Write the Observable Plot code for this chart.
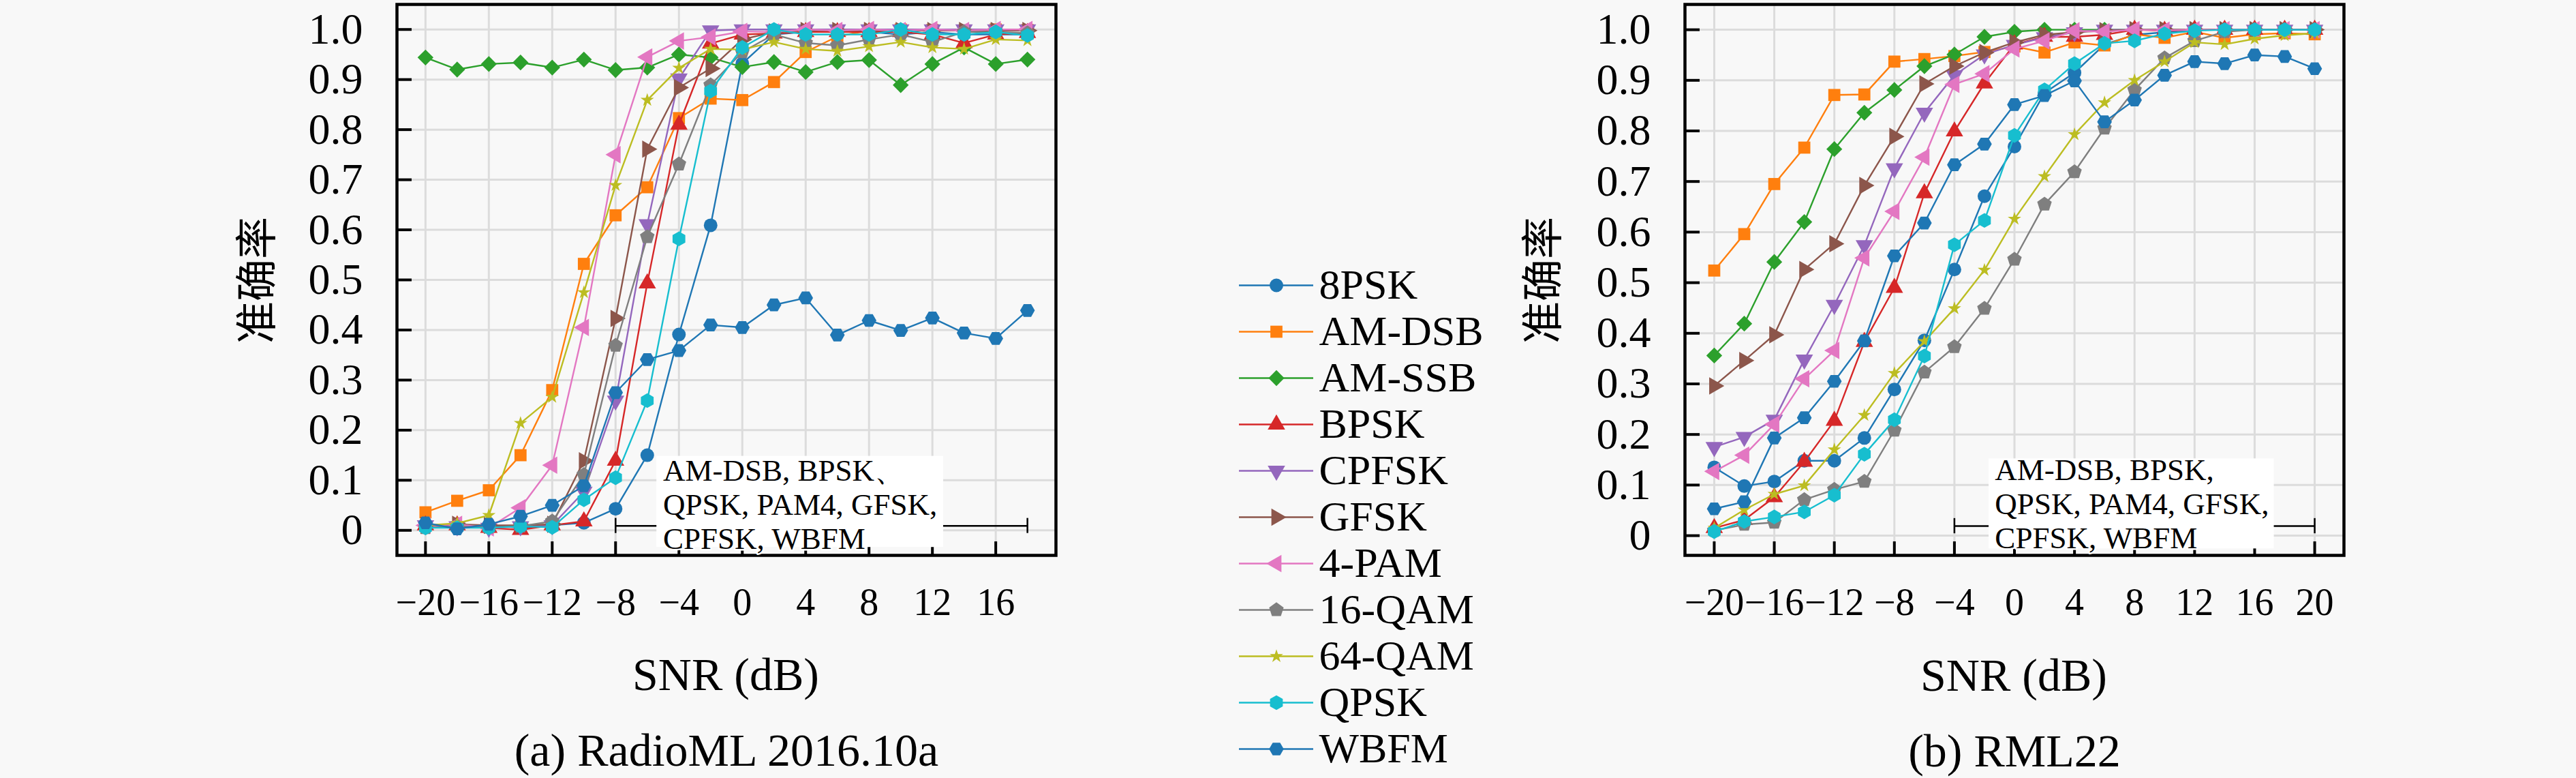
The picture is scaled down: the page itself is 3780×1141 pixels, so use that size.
<!DOCTYPE html>
<html>
<head>
<meta charset="utf-8">
<script src="https://cdn.jsdelivr.net/npm/d3@7"></script>
<script src="https://cdn.jsdelivr.net/npm/@observablehq/plot@0.6"></script>
<style>
  body { margin: 0; background: #f8f8f8; }
  #root { position: relative; width: 3780px; height: 1141px; overflow: hidden; background: #f8f8f8; font-family: "Liberation Serif", serif; color: #000; }
  .panel { position: absolute; top: 0; }
  .lbl { position: absolute; transform: translate(-50%, -50%); white-space: nowrap; line-height: 1; font-family: "Liberation Serif", serif; font-size: 68px; color: #000; }
  .ylab { position: absolute; transform: translate(-50%, -50%) rotate(-90deg); white-space: nowrap; line-height: 1; font-family: "Noto Sans CJK SC", sans-serif; font-size: 62px; color: #000; }
</style>
</head>
<body>
<div id="root"></div>
<script>
// ---------------- data ----------------
const classes = ["8PSK", "AM-DSB", "AM-SSB", "BPSK", "CPFSK", "GFSK", "4-PAM", "16-QAM", "64-QAM", "QPSK", "WBFM"];

const snrA = [-20, -18, -16, -14, -12, -10, -8, -6, -4, -2, 0, 2, 4, 6, 8, 10, 12, 14, 16, 18];
const snrB = [-20, -18, -16, -14, -12, -10, -8, -6, -4, -2, 0, 2, 4, 6, 8, 10, 12, 14, 16, 18, 20];

// (a) RadioML 2016.10a
const a8PSK   = [0.010, 0.008, 0.010, 0.005, 0.010, 0.015, 0.043, 0.150, 0.391, 0.609, 0.932, 0.990, 0.995, 0.995, 0.995, 0.990, 0.995, 0.990, 0.990, 0.990];
const aAMDSB  = [0.036, 0.059, 0.080, 0.150, 0.280, 0.532, 0.629, 0.685, 0.823, 0.862, 0.859, 0.895, 0.955, 0.986, 0.998, 1.000, 0.999, 0.998, 1.000, 0.999];
const aAMSSB  = [0.944, 0.920, 0.931, 0.934, 0.924, 0.940, 0.919, 0.924, 0.950, 0.944, 0.925, 0.935, 0.915, 0.935, 0.939, 0.889, 0.931, 0.964, 0.931, 0.940];
const aBPSK   = [0.010, 0.010, 0.005, 0.001, 0.010, 0.018, 0.139, 0.493, 0.810, 0.972, 0.990, 0.992, 0.995, 0.995, 0.995, 0.995, 0.990, 0.973, 0.990, 0.993];
const aCPFSK  = [0.010, 0.008, 0.005, 0.008, 0.010, 0.077, 0.259, 0.611, 0.902, 0.998, 1.000, 1.000, 1.000, 1.000, 1.000, 1.000, 1.000, 1.000, 1.000, 1.000];
const aGFSK   = [0.010, 0.012, 0.010, 0.010, 0.012, 0.139, 0.423, 0.761, 0.884, 0.922, 0.980, 0.995, 0.998, 0.998, 0.998, 0.998, 0.998, 0.998, 0.998, 0.998];
const a4PAM   = [0.010, 0.012, 0.005, 0.045, 0.130, 0.405, 0.750, 0.945, 0.977, 0.985, 0.996, 0.995, 1.000, 0.998, 1.000, 0.998, 1.000, 0.998, 1.000, 1.000];
const a16QAM  = [0.005, 0.008, 0.006, 0.008, 0.018, 0.111, 0.369, 0.586, 0.731, 0.889, 0.955, 0.990, 0.973, 0.968, 0.980, 0.990, 0.975, 0.995, 0.995, 0.993];
const a64QAM  = [0.010, 0.014, 0.030, 0.214, 0.266, 0.475, 0.689, 0.859, 0.923, 0.961, 0.960, 0.975, 0.961, 0.957, 0.966, 0.975, 0.964, 0.961, 0.980, 0.978];
const aQPSK   = [0.005, 0.005, 0.005, 0.008, 0.006, 0.061, 0.105, 0.259, 0.582, 0.877, 0.964, 1.000, 0.990, 0.990, 0.990, 1.000, 0.990, 0.990, 0.995, 0.988];
const aWBFM   = [0.015, 0.003, 0.012, 0.028, 0.050, 0.089, 0.275, 0.341, 0.359, 0.410, 0.405, 0.450, 0.464, 0.390, 0.419, 0.399, 0.424, 0.394, 0.383, 0.439];

// (b) RML22
const b8PSK   = [0.135, 0.098, 0.107, 0.148, 0.148, 0.193, 0.289, 0.386, 0.526, 0.671, 0.769, 0.875, 0.915, 0.971, 0.990, 0.995, 1.000, 1.000, 1.000, 1.000, 1.000];
const bAMDSB  = [0.524, 0.596, 0.695, 0.767, 0.871, 0.872, 0.937, 0.942, 0.948, 0.956, 0.967, 0.955, 0.975, 0.969, 0.991, 0.984, 0.996, 0.984, 0.991, 0.993, 0.991];
const bAMSSB  = [0.356, 0.419, 0.541, 0.620, 0.764, 0.836, 0.881, 0.928, 0.951, 0.986, 0.996, 1.000, 1.000, 1.000, 1.000, 1.000, 1.000, 1.000, 1.000, 1.000, 1.000];
const bBPSK   = [0.015, 0.031, 0.076, 0.146, 0.227, 0.383, 0.490, 0.677, 0.799, 0.894, 0.971, 0.986, 0.986, 0.990, 1.000, 0.998, 1.000, 1.000, 1.000, 1.000, 1.000];
const bCPFSK  = [0.175, 0.195, 0.229, 0.348, 0.456, 0.574, 0.726, 0.836, 0.910, 0.951, 0.970, 0.985, 0.995, 1.000, 1.000, 1.000, 1.000, 1.000, 1.000, 1.000, 1.000];
const bGFSK   = [0.296, 0.346, 0.397, 0.526, 0.577, 0.692, 0.789, 0.893, 0.928, 0.955, 0.975, 0.990, 0.995, 0.998, 1.000, 1.000, 1.000, 1.000, 1.000, 1.000, 1.000];
const b4PAM   = [0.127, 0.159, 0.220, 0.310, 0.366, 0.549, 0.641, 0.748, 0.892, 0.913, 0.962, 0.978, 0.998, 0.996, 1.000, 0.999, 1.000, 1.000, 1.000, 1.000, 1.000];
const b16QAM  = [0.010, 0.022, 0.026, 0.071, 0.091, 0.107, 0.208, 0.323, 0.373, 0.449, 0.546, 0.655, 0.719, 0.805, 0.881, 0.944, 0.978, 0.996, 1.000, 1.000, 1.000];
const b64QAM  = [0.015, 0.051, 0.082, 0.099, 0.170, 0.238, 0.321, 0.384, 0.449, 0.525, 0.626, 0.710, 0.793, 0.856, 0.900, 0.937, 0.975, 0.971, 0.982, 0.989, 0.993];
const bQPSK   = [0.008, 0.028, 0.037, 0.047, 0.080, 0.161, 0.229, 0.355, 0.575, 0.623, 0.791, 0.881, 0.933, 0.973, 0.978, 0.992, 0.998, 1.000, 1.000, 1.000, 1.000];
const bWBFM   = [0.053, 0.067, 0.193, 0.233, 0.305, 0.385, 0.553, 0.618, 0.733, 0.774, 0.852, 0.870, 0.899, 0.818, 0.861, 0.910, 0.937, 0.933, 0.950, 0.947, 0.923];

const seriesA = [a8PSK, aAMDSB, aAMSSB, aBPSK, aCPFSK, aGFSK, a4PAM, a16QAM, a64QAM, aQPSK, aWBFM];
const seriesB = [b8PSK, bAMDSB, bAMSSB, bBPSK, bCPFSK, bGFSK, b4PAM, b16QAM, b64QAM, bQPSK, bWBFM];

// ticks
const xTicksA = [-20, -16, -12, -8, -4, 0, 4, 8, 12, 16];
const xTickLabelsA = ["−20", "−16", "−12", "−8", "−4", "0", "4", "8", "12", "16"];
const xTicksB = [-20, -16, -12, -8, -4, 0, 4, 8, 12, 16, 20];
const xTickLabelsB = ["−20", "−16", "−12", "−8", "−4", "0", "4", "8", "12", "16", "20"];
const yTicks = [0, 0.1, 0.2, 0.3, 0.4, 0.5, 0.6, 0.7, 0.8, 0.9, 1.0];
const yTickLabels = ["0", "0.1", "0.2", "0.3", "0.4", "0.5", "0.6", "0.7", "0.8", "0.9", "1.0"];

// texts
const yLabel = "准确率";
const xLabel = "SNR (dB)";
const titleA = "(a) RadioML 2016.10a";
const titleB = "(b) RML22";
const annoLinesA = ["AM-DSB, BPSK、", "QPSK, PAM4, GFSK,", "CPFSK, WBFM"];
const annoLinesB = ["AM-DSB, BPSK,", "QPSK, PAM4, GFSK,", "CPFSK, WBFM"];
// annotation anchors (data units): text x, text y, bracket x1, x2, y
const annoPosA = [-5.0, 0.053, -8, 18, 0.009];
const annoPosB = [-1.3, 0.064, -4, 20, 0.019];
// annotation background box (data units): x1, x2, y1, y2
const annoBoxA = [-5.4, 12.7, -0.034, 0.148];
const annoBoxB = [-1.7, 17.3, -0.026, 0.152];

// ---------------- styles ----------------
const colors = ["#1f77b4", "#ff7f0e", "#2ca02c", "#d62728", "#9467bd", "#8c564b", "#e377c2", "#7f7f7f", "#bcbd22", "#17becf", "#1f77b4"];

function polygon(n, rot, scale) {
  return {
    draw(ctx, size) {
      const R = Math.sqrt(size / Math.PI) * scale;
      for (let i = 0; i < n; i++) {
        const a = rot + 2 * Math.PI * i / n;
        const px = R * Math.sin(a), py = -R * Math.cos(a);
        if (i === 0) ctx.moveTo(px, py); else ctx.lineTo(px, py);
      }
      ctx.closePath();
    }
  };
}
const pentagon = polygon(5, 0, 1.12);
const hexagon = polygon(6, 0, 1.08);
const hexagonFlat = polygon(6, Math.PI / 6, 1.08);

const markerStyle = [
  {symbol: "circle", r: 10, rotate: 0},
  {symbol: "square", r: 10, rotate: 0},
  {symbol: "diamond2", r: 10.5, rotate: 0},
  {symbol: "triangle", r: 9.5, rotate: 0},
  {symbol: "triangle", r: 9.5, rotate: 180},
  {symbol: "triangle", r: 9.5, rotate: 90},
  {symbol: "triangle", r: 9.5, rotate: -90},
  {symbol: pentagon, r: 10, rotate: 0},
  {symbol: "star", r: 6.2, rotate: 0},
  {symbol: hexagon, r: 10, rotate: 0},
  {symbol: hexagonFlat, r: 10, rotate: 0}
];

const serif = "Liberation Serif";
const lineW = 2.4;

function panel(snr, series, xDomain, yDomain, xTicks, xTickLabels, annoLines, annoPos, annoBox) {
  const [tx, ty, bx1, bx2, by] = annoPos;
  const box = {x1: annoBox[0], x2: annoBox[1], y1: annoBox[2], y2: annoBox[3]};
  const bracketSegs = [{a: bx1, b: box.x1, y: by}, {a: box.x2, b: bx2, y: by}];
  const bracketEnds = [{x: bx1, lo: by - 0.015, hi: by + 0.015}, {x: bx2, lo: by - 0.015, hi: by + 0.015}];
  const marks = [
    Plot.gridX({ticks: xTicks, stroke: "#dcdcdc", strokeOpacity: 1, strokeWidth: 3}),
    Plot.gridY({ticks: yTicks, stroke: "#dcdcdc", strokeOpacity: 1, strokeWidth: 3})
  ];
  classes.forEach((c, i) => {
    const vals = series[i];
    const data = snr.map((x, j) => ({snr: x, acc: vals[j]}));
    const m = markerStyle[i];
    marks.push(Plot.line(data, {x: "snr", y: "acc", stroke: colors[i], strokeWidth: lineW}));
    marks.push(Plot.dot(data, {x: "snr", y: "acc", symbol: m.symbol, r: m.r, rotate: m.rotate, fill: colors[i]}));
  });
  marks.push(
    Plot.axisY({ticks: yTicks, tickSize: 22, dx: 22, fill: "none", stroke: "black", strokeWidth: 4, label: null}),
    Plot.axisX({ticks: xTicks, tickSize: 20, dy: -20, fill: "none", stroke: "black", strokeWidth: 4, label: null}),
    Plot.rect([box], {x1: "x1", x2: "x2", y1: "y1", y2: "y2", fill: "#ffffff", fillOpacity: 1}),
    Plot.ruleY(bracketSegs, {y: "y", x1: "a", x2: "b", stroke: "black", strokeWidth: 2.5}),
    Plot.ruleX(bracketEnds, {x: "x", y1: "lo", y2: "hi", stroke: "black", strokeWidth: 2.5}),
    Plot.frame({stroke: "black", strokeWidth: 4.5}),
    Plot.axisY({ticks: yTicks, tickSize: 0, tickPadding: 50, stroke: "none", fill: "black", fontSize: 64, fontFamily: serif,
      tickFormat: d => yTickLabels[Math.round(d * 10)], label: null}),
    Plot.axisX({ticks: xTicks, tickSize: 0, tickPadding: 48, stroke: "none", fill: "black", fontSize: 56, fontFamily: serif,
      tickFormat: d => xTickLabels[xTicks.indexOf(d)], label: null}),
    Plot.text([annoLines.join("\n")], {x: tx, y: ty, text: d => d, textAnchor: "start", lineAnchor: "middle", lineHeight: 1.11,
      fontSize: 45, fontFamily: serif, fill: "black", stroke: "white", strokeWidth: 5, strokeLinejoin: "round"})
  );
  return Plot.plot({
    width: 1620, height: 1045,
    marginLeft: 582, marginRight: 71, marginTop: 6, marginBottom: 231,
    x: {domain: xDomain},
    y: {domain: yDomain},
    style: {fontFamily: serif, fontSize: "64px", background: "transparent", color: "black", overflow: "visible"},
    marks
  });
}

const root = document.getElementById("root");

function place(el, left, top) {
  const wrap = document.createElement("div");
  wrap.className = "panel";
  wrap.style.left = left + "px";
  wrap.style.top = top + "px";
  wrap.appendChild(el);
  root.appendChild(wrap);
}

place(panel(snrA, seriesA, [-21.8, 19.8], [-0.05, 1.05], xTicksA, xTickLabelsA, annoLinesA, annoPosA, annoBoxA), 0, 0);
place(panel(snrB, seriesB, [-21.95, 21.95], [-0.039, 1.05], xTicksB, xTickLabelsB, annoLinesB, annoPosB, annoBoxB), 1890, 0);

// legend
const legendMarks = [];
classes.forEach((c, i) => {
  const m = markerStyle[i];
  legendMarks.push(Plot.ruleY([c], {y: d => d, x1: 0, x2: 1, stroke: colors[i], strokeWidth: lineW}));
  legendMarks.push(Plot.dot([c], {x: 0.5, y: d => d, symbol: m.symbol, r: m.r, rotate: m.rotate, fill: colors[i]}));
});
legendMarks.push(Plot.text(classes, {x: 1, y: d => d, text: d => d, dx: 8, textAnchor: "start", lineAnchor: "middle", fontSize: 62, fontFamily: serif, fill: "black"}));
const legend = Plot.plot({
  width: 420, height: 771,
  marginLeft: 18, marginRight: 293, marginTop: 44, marginBottom: 39,
  x: {domain: [0, 1], axis: null},
  y: {type: "point", domain: classes, padding: 0, axis: null},
  style: {fontFamily: serif, background: "transparent", color: "black", overflow: "visible"},
  marks: legendMarks
});
place(legend, 1800, 370);

// labels and titles
function label(text, cls, x, y) {
  const d = document.createElement("div");
  d.className = cls;
  d.textContent = text;
  d.style.left = x + "px";
  d.style.top = y + "px";
  root.appendChild(d);
}
label(yLabel, "ylab", 372, 411);
label(yLabel, "ylab", 2259, 411);
label(xLabel, "lbl", 1065, 989);
label(xLabel, "lbl", 2955, 990);
label(titleA, "lbl", 1066, 1100);
label(titleB, "lbl", 2956, 1101);
</script>
</body>
</html>
